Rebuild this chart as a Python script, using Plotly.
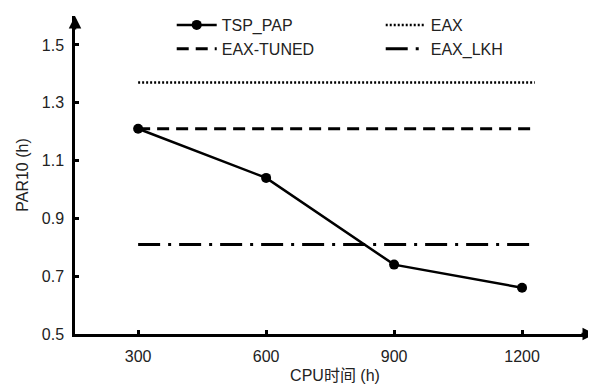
import plotly.graph_objects as go

cpu_hours = [300, 600, 900, 1200]
tsp_pap = [1.21, 1.04, 0.74, 0.66]
baseline_x = [300, 1230]
eax = [1.37, 1.37]
eax_tuned = [1.21, 1.21]
eax_lkh = [0.81, 0.81]
y_ticks = [0.5, 0.7, 0.9, 1.1, 1.3, 1.5]

FONT = "Liberation Sans, Arial, Noto Sans CJK SC"

fig = go.Figure()
fig.add_trace(go.Scatter(x=cpu_hours, y=tsp_pap, name="TSP_PAP", mode="lines+markers",
                         line=dict(color="black", width=2.5),
                         marker=dict(symbol="circle", size=10, color="black")))
fig.add_trace(go.Scatter(x=baseline_x, y=eax, name="EAX", mode="lines",
                         line=dict(color="black", width=2.5, dash="2px,2px")))
fig.add_trace(go.Scatter(x=baseline_x, y=eax_tuned, name="EAX-TUNED", mode="lines",
                         line=dict(color="black", width=3, dash="12px,7px")))
fig.add_trace(go.Scatter(x=baseline_x, y=eax_lkh, name="EAX_LKH", mode="lines",
                         line=dict(color="black", width=3, dash="22px,8px,3px,8px")))

# page body has an 8px margin, so the figure is sized to fit the visible window
fig.update_layout(
    width=588, height=383,
    margin=dict(l=67, r=1, t=7, b=57),
    paper_bgcolor="white", plot_bgcolor="white",
    font=dict(family=FONT, size=16, color="#222"),
    showlegend=True,
    legend=dict(orientation="h", x=0.186, y=1.022, xanchor="left", yanchor="top",
                entrywidth=154, entrywidthmode="pixels", traceorder="normal",
                font=dict(size=16, color="#222"), bgcolor="rgba(0,0,0,0)",
                itemwidth=40, tracegroupgap=0),
    xaxis=dict(range=[152, 1371], tickvals=cpu_hours, ticks="inside", ticklen=4,
               tickwidth=3, tickcolor="black", showline=True, linecolor="black",
               linewidth=2.5, showgrid=False, zeroline=False, automargin=False,
               ticklabelstandoff=6,
               title=dict(text="CPU时间 (h)", font=dict(size=16), standoff=6)),
    yaxis=dict(range=[0.5, 1.6], tickvals=y_ticks, tickformat=".1f", ticks="inside",
               ticklen=4, tickwidth=3, tickcolor="black", showline=True,
               linecolor="black", linewidth=2.5, showgrid=False, zeroline=False,
               automargin=False, ticklabelstandoff=5,
               title=dict(text="PAR10 (h)", font=dict(size=16), standoff=10)),
)

fig.add_annotation(x=1, y=0, xref="paper", yref="paper", ax=-15, ay=0,
                   axref="pixel", ayref="pixel", text="", showarrow=True,
                   arrowhead=2, arrowsize=1, arrowwidth=2.5, arrowcolor="black")
fig.add_annotation(x=0, y=1, xref="paper", yref="paper", ax=0, ay=15,
                   axref="pixel", ayref="pixel", text="", showarrow=True,
                   arrowhead=2, arrowsize=1, arrowwidth=2.5, arrowcolor="black")

fig.write_html("out.html")
